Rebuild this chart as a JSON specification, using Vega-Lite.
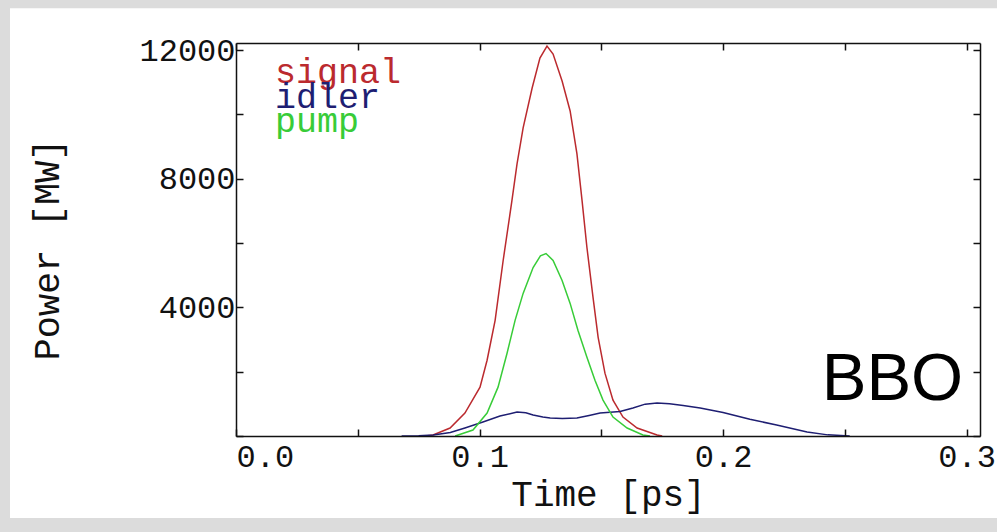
{
  "$schema": "https://vega.github.io/schema/vega-lite/v6.json",
  "width": 744,
  "height": 393,
  "autosize": "none",
  "padding": {"left": 236, "top": 43, "right": 17, "bottom": 96},
  "background": "#dcdcdc",
  "config": {
    "view": {"stroke": null},
    "axis": {
      "domainColor": "#111111",
      "domainWidth": 1.5,
      "tickColor": "#111111",
      "tickWidth": 1.5,
      "tickSize": -7,
      "grid": false,
      "labelFont": "Liberation Mono",
      "labelFontSize": 32,
      "labelColor": "#111111",
      "labelOverlap": false,
      "labelBound": false,
      "titleFont": "Liberation Mono",
      "titleFontWeight": "normal",
      "titleColor": "#111111"
    }
  },
  "datasets": {
    "curves": [
      {"series": "signal", "t": 0.078, "p": 0},
      {"series": "signal", "t": 0.0809, "p": 31},
      {"series": "signal", "t": 0.0879, "p": 248},
      {"series": "signal", "t": 0.094, "p": 713},
      {"series": "signal", "t": 0.1002, "p": 1519},
      {"series": "signal", "t": 0.1031, "p": 2356},
      {"series": "signal", "t": 0.1064, "p": 3596},
      {"series": "signal", "t": 0.1097, "p": 5456},
      {"series": "signal", "t": 0.1133, "p": 7316},
      {"series": "signal", "t": 0.1154, "p": 8463},
      {"series": "signal", "t": 0.1179, "p": 9579},
      {"series": "signal", "t": 0.1216, "p": 10819},
      {"series": "signal", "t": 0.1248, "p": 11749},
      {"series": "signal", "t": 0.1277, "p": 12120},
      {"series": "signal", "t": 0.1302, "p": 11873},
      {"series": "signal", "t": 0.1339, "p": 11036},
      {"series": "signal", "t": 0.1372, "p": 10106},
      {"series": "signal", "t": 0.14, "p": 8773},
      {"series": "signal", "t": 0.1421, "p": 7316},
      {"series": "signal", "t": 0.1441, "p": 5859},
      {"series": "signal", "t": 0.1466, "p": 4309},
      {"series": "signal", "t": 0.1487, "p": 3069},
      {"series": "signal", "t": 0.1515, "p": 1953},
      {"series": "signal", "t": 0.1548, "p": 1116},
      {"series": "signal", "t": 0.1589, "p": 589},
      {"series": "signal", "t": 0.1647, "p": 248},
      {"series": "signal", "t": 0.1729, "p": 31},
      {"series": "signal", "t": 0.175, "p": 0},
      {"series": "idler", "t": 0.068, "p": 0},
      {"series": "idler", "t": 0.075, "p": 5},
      {"series": "idler", "t": 0.081, "p": 31},
      {"series": "idler", "t": 0.088, "p": 110},
      {"series": "idler", "t": 0.094, "p": 250},
      {"series": "idler", "t": 0.1014, "p": 434},
      {"series": "idler", "t": 0.1084, "p": 620},
      {"series": "idler", "t": 0.1154, "p": 744},
      {"series": "idler", "t": 0.119, "p": 720},
      {"series": "idler", "t": 0.122, "p": 651},
      {"series": "idler", "t": 0.126, "p": 590},
      {"series": "idler", "t": 0.129, "p": 558},
      {"series": "idler", "t": 0.134, "p": 545},
      {"series": "idler", "t": 0.14, "p": 558},
      {"series": "idler", "t": 0.145, "p": 640},
      {"series": "idler", "t": 0.1495, "p": 713},
      {"series": "idler", "t": 0.1577, "p": 760},
      {"series": "idler", "t": 0.163, "p": 870},
      {"series": "idler", "t": 0.168, "p": 990},
      {"series": "idler", "t": 0.1729, "p": 1023},
      {"series": "idler", "t": 0.178, "p": 1000},
      {"series": "idler", "t": 0.1836, "p": 950},
      {"series": "idler", "t": 0.1906, "p": 868},
      {"series": "idler", "t": 0.2, "p": 730},
      {"series": "idler", "t": 0.211, "p": 520},
      {"series": "idler", "t": 0.222, "p": 341},
      {"series": "idler", "t": 0.2345, "p": 124},
      {"series": "idler", "t": 0.243, "p": 35},
      {"series": "idler", "t": 0.252, "p": 0},
      {"series": "pump", "t": 0.09, "p": 0},
      {"series": "pump", "t": 0.0973, "p": 186},
      {"series": "pump", "t": 0.1031, "p": 713},
      {"series": "pump", "t": 0.1076, "p": 1519},
      {"series": "pump", "t": 0.1113, "p": 2573},
      {"series": "pump", "t": 0.1146, "p": 3596},
      {"series": "pump", "t": 0.1179, "p": 4433},
      {"series": "pump", "t": 0.122, "p": 5239},
      {"series": "pump", "t": 0.125, "p": 5600},
      {"series": "pump", "t": 0.1273, "p": 5673},
      {"series": "pump", "t": 0.1302, "p": 5456},
      {"series": "pump", "t": 0.1339, "p": 4836},
      {"series": "pump", "t": 0.1372, "p": 4123},
      {"series": "pump", "t": 0.1404, "p": 3286},
      {"series": "pump", "t": 0.1441, "p": 2449},
      {"series": "pump", "t": 0.1474, "p": 1736},
      {"series": "pump", "t": 0.1507, "p": 1116},
      {"series": "pump", "t": 0.1548, "p": 589},
      {"series": "pump", "t": 0.1606, "p": 248},
      {"series": "pump", "t": 0.1671, "p": 31},
      {"series": "pump", "t": 0.17, "p": 0}
    ],
    "keys": [{"series": "signal"}, {"series": "idler"}, {"series": "pump"}],
    "note": [{"label": "BBO"}],
    "panel": [{"name": "panel"}]
  },
  "layer": [
    {
      "data": {"name": "panel"},
      "mark": {"type": "rect", "fill": "#ffffff", "stroke": null},
      "encoding": {
        "x": {"datum": -0.0928, "type": "quantitative", "axis": null, "scale": {"domain": [0, 0.3055], "nice": false, "zero": false}},
        "x2": {"datum": 0.32},
        "y": {"datum": -2550, "type": "quantitative", "axis": null, "scale": {"domain": [0, 12218], "nice": false, "zero": false}},
        "y2": {"datum": 13300}
      }
    },
    {
      "data": {"name": "curves"},
      "mark": {"type": "line", "strokeWidth": 1.5, "interpolate": "linear"},
      "encoding": {
        "x": {
          "field": "t", "type": "quantitative",
          "scale": {"domain": [0, 0.3055], "nice": false, "zero": false},
          "axis": {
            "orient": "bottom",
            "zindex": 2,
            "values": [0, 0.05, 0.1, 0.15, 0.2, 0.25, 0.3],
            "labelExpr": "(round(datum.value*100) % 10 == 0) ? format(datum.value, '.1f') : ''",
            "labelFlush": true,
            "labelPadding": 12,
            "title": "Time [ps]",
            "titleFontSize": 36,
            "titleBaseline": "alphabetic",
            "titleY": 69
          }
        },
        "y": {
          "field": "p", "type": "quantitative",
          "scale": {"domain": [0, 12218], "nice": false, "zero": false},
          "axis": {
            "orient": "left",
            "zindex": 2,
            "values": [0, 2000, 4000, 6000, 8000, 10000, 12000],
            "labelExpr": "(datum.value % 4000 == 0 && datum.value > 0) ? format(datum.value, 'd') : ''",
            "labelPadding": 8,
            "title": "Power [MW]",
            "titleFontSize": 37,
            "titleAngle": -90,
            "titleBaseline": "alphabetic",
            "titleAlign": "center",
            "titleX": -178,
            "titleY": 206
          }
        },
        "color": {
          "field": "series", "type": "nominal",
          "scale": {"domain": ["signal", "idler", "pump"], "range": ["#bb2a2e", "#1e1e72", "#38cc38"]},
          "legend": null
        }
      }
    },
    {
      "data": {"name": "keys"},
      "mark": {"type": "text", "font": "Liberation Mono", "fontSize": 35, "align": "left", "baseline": "alphabetic"},
      "encoding": {
        "text": {"field": "series"},
        "x": {"datum": 0.016, "type": "quantitative", "axis": null, "scale": {"domain": [0, 0.3055], "nice": false, "zero": false}},
        "y": {"field": "series", "type": "ordinal", "axis": null, "scale": {"type": "point", "domain": ["signal", "idler", "pump"], "range": [40, 89], "padding": 0}},
        "color": {"field": "series", "type": "nominal", "legend": null}
      }
    },
    {
      "data": {"name": "note"},
      "mark": {"type": "text", "font": "Liberation Sans", "fontSize": 67, "align": "right", "baseline": "alphabetic", "color": "#000000"},
      "encoding": {
        "text": {"field": "label"},
        "x": {
          "datum": 0.2986, "type": "quantitative",
          "scale": {"domain": [0, 0.3055], "nice": false, "zero": false},
          "axis": {"orient": "top", "zindex": 2, "values": [0, 0.05, 0.1, 0.15, 0.2, 0.25, 0.3], "labels": false, "title": null}
        },
        "y": {
          "datum": 1116, "type": "quantitative",
          "scale": {"domain": [0, 12218], "nice": false, "zero": false},
          "axis": {"orient": "right", "zindex": 2, "values": [0, 2000, 4000, 6000, 8000, 10000, 12000], "labels": false, "title": null}
        }
      }
    }
  ],
  "resolve": {"scale": {"y": "independent"}, "axis": {"x": "independent", "y": "independent"}}
}
